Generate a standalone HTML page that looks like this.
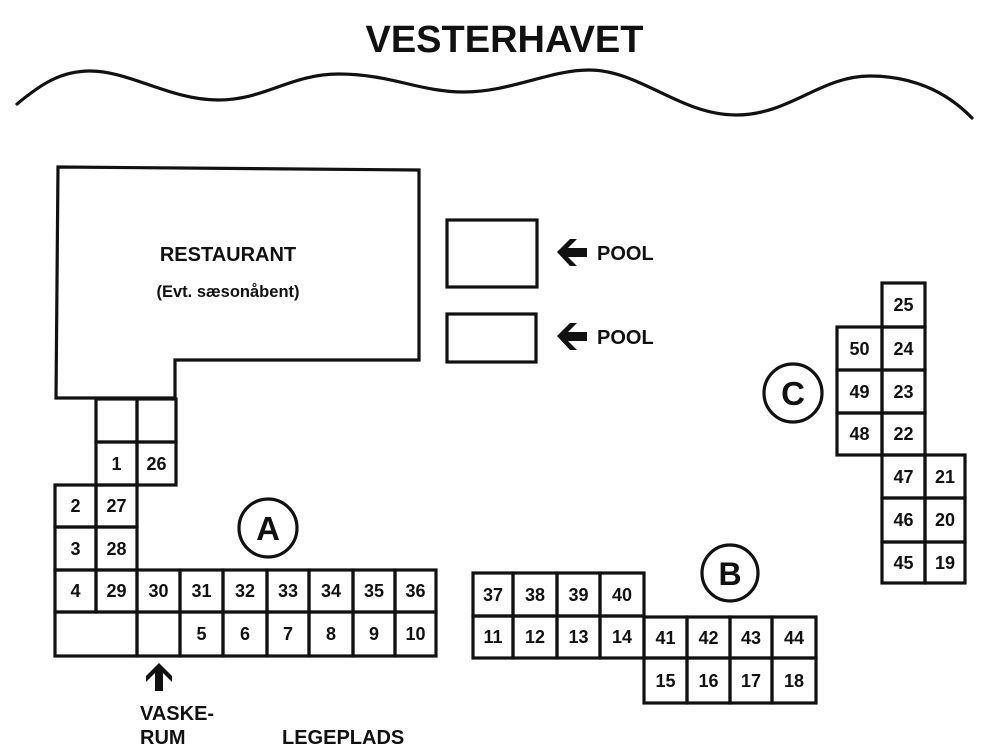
<!DOCTYPE html>
<html>
<head>
<meta charset="utf-8">
<style>
html,body{margin:0;padding:0;background:#fff;}
svg{display:block;}
text{font-family:"Liberation Sans",Arial,sans-serif;font-weight:bold;fill:#111;}
.n{font-size:18px;text-anchor:middle;}
</style>
</head>
<body>
<svg width="1002" height="748" viewBox="0 0 1002 748" xmlns="http://www.w3.org/2000/svg">
<rect width="1002" height="748" fill="#fff"/>

<!-- Title -->
<text x="504.5" y="52" font-size="38" text-anchor="middle">VESTERHAVET</text>

<!-- Wave -->
<path d="M17,104 C40,85 60,71 90,71 C130,71 170,100 218,100 C265,100 290,74 339,74 C390,74 420,92 464,92 C510,92 550,70 589,70 C640,70 680,115 736,115 C790,115 820,76 870,76 C910,76 945,90 972,118" fill="none" stroke="#111" stroke-width="3.2" stroke-linecap="round"/>

<g fill="none" stroke="#111" stroke-width="3.2">
<!-- Restaurant -->
<polygon points="58,167 419,170 419,360 175,360 175,398 56,398"/>

<!-- Pools -->
<rect x="447" y="220" width="90" height="67"/>
<rect x="447" y="314" width="89" height="48"/>

<!-- Block A -->
<rect x="96" y="399" width="41" height="43"/>
<rect x="137" y="399" width="39" height="43"/>
<rect x="96" y="442" width="41" height="43"/>
<rect x="137" y="442" width="39" height="43"/>
<rect x="55" y="485" width="41" height="42"/>
<rect x="96" y="485" width="41" height="42"/>
<rect x="55" y="527" width="41" height="43"/>
<rect x="96" y="527" width="41" height="43"/>
<rect x="55" y="570" width="41" height="42"/>
<rect x="96" y="570" width="41" height="42"/>
<rect x="137" y="570" width="43" height="42"/>
<rect x="180" y="570" width="43" height="42"/>
<rect x="223" y="570" width="44" height="42"/>
<rect x="267" y="570" width="42" height="42"/>
<rect x="309" y="570" width="44" height="42"/>
<rect x="353" y="570" width="42" height="42"/>
<rect x="395" y="570" width="41" height="42"/>
<rect x="55" y="612" width="82" height="44"/>
<rect x="137" y="612" width="43" height="44"/>
<rect x="180" y="612" width="43" height="44"/>
<rect x="223" y="612" width="44" height="44"/>
<rect x="267" y="612" width="42" height="44"/>
<rect x="309" y="612" width="44" height="44"/>
<rect x="353" y="612" width="42" height="44"/>
<rect x="395" y="612" width="41" height="44"/>

<!-- Block B -->
<rect x="473" y="573" width="40" height="43"/>
<rect x="513" y="573" width="44" height="43"/>
<rect x="557" y="573" width="43" height="43"/>
<rect x="600" y="573" width="44" height="43"/>
<rect x="473" y="616" width="40" height="42"/>
<rect x="513" y="616" width="44" height="42"/>
<rect x="557" y="616" width="43" height="42"/>
<rect x="600" y="616" width="44" height="42"/>
<rect x="644" y="617" width="43" height="41"/>
<rect x="687" y="617" width="43" height="41"/>
<rect x="730" y="617" width="42" height="41"/>
<rect x="772" y="617" width="44" height="41"/>
<rect x="644" y="658" width="43" height="45"/>
<rect x="687" y="658" width="43" height="45"/>
<rect x="730" y="658" width="42" height="45"/>
<rect x="772" y="658" width="44" height="45"/>

<!-- Block C -->
<rect x="882" y="283" width="43" height="44"/>
<rect x="837" y="327" width="45" height="43"/>
<rect x="882" y="327" width="43" height="43"/>
<rect x="837" y="370" width="45" height="43"/>
<rect x="882" y="370" width="43" height="43"/>
<rect x="837" y="413" width="45" height="42"/>
<rect x="882" y="413" width="43" height="42"/>
<rect x="882" y="455" width="43" height="43"/>
<rect x="925" y="455" width="40" height="43"/>
<rect x="882" y="498" width="43" height="44"/>
<rect x="925" y="498" width="40" height="44"/>
<rect x="882" y="542" width="43" height="41"/>
<rect x="925" y="542" width="40" height="41"/>

<!-- Circles -->
<circle cx="268" cy="528" r="29"/>
<circle cx="730" cy="573" r="28"/>
<circle cx="793" cy="393" r="29"/>
</g>

<!-- Circle letters -->
<text x="268" y="540" font-size="33" text-anchor="middle">A</text>
<text x="730" y="585" font-size="32" text-anchor="middle">B</text>
<text x="793" y="405" font-size="33" text-anchor="middle">C</text>

<!-- Restaurant labels -->
<text x="228" y="261" font-size="20" text-anchor="middle">RESTAURANT</text>
<text x="228" y="297" font-size="16.5" text-anchor="middle">(Evt. sæsonåbent)</text>

<!-- Pool arrows & labels -->
<polygon points="557,252 570,239 577,239 568,248 587,248 587,257 568,257 577,266 570,266" fill="#111"/>
<text x="597" y="260" font-size="20">POOL</text>
<polygon points="557,336 570,323 577,323 568,332 587,332 587,341 568,341 577,350 570,350" fill="#111"/>
<text x="597" y="344" font-size="20">POOL</text>

<!-- Vaskerum arrow -->
<polygon points="159,663 172,676 172,682 163,673 163,691 155,691 155,673 146,682 146,676" fill="#111"/>
<text x="140" y="720" font-size="20">VASKE-</text>
<text x="140" y="744" font-size="20">RUM</text>
<text x="282" y="744" font-size="20">LEGEPLADS</text>

<!-- Numbers Block A -->
<text class="n" x="116.5" y="470">1</text>
<text class="n" x="156.5" y="470">26</text>
<text class="n" x="75.5" y="512">2</text>
<text class="n" x="116.5" y="512">27</text>
<text class="n" x="75.5" y="555">3</text>
<text class="n" x="116.5" y="555">28</text>
<text class="n" x="75.5" y="597">4</text>
<text class="n" x="116.5" y="597">29</text>
<text class="n" x="158.5" y="597">30</text>
<text class="n" x="201.5" y="597">31</text>
<text class="n" x="245" y="597">32</text>
<text class="n" x="288" y="597">33</text>
<text class="n" x="331" y="597">34</text>
<text class="n" x="374" y="597">35</text>
<text class="n" x="415.5" y="597">36</text>
<text class="n" x="201.5" y="640">5</text>
<text class="n" x="245" y="640">6</text>
<text class="n" x="288" y="640">7</text>
<text class="n" x="331" y="640">8</text>
<text class="n" x="374" y="640">9</text>
<text class="n" x="415.5" y="640">10</text>

<!-- Numbers Block B -->
<text class="n" x="493" y="601">37</text>
<text class="n" x="535" y="601">38</text>
<text class="n" x="578.5" y="601">39</text>
<text class="n" x="622" y="601">40</text>
<text class="n" x="493" y="643">11</text>
<text class="n" x="535" y="643">12</text>
<text class="n" x="578.5" y="643">13</text>
<text class="n" x="622" y="643">14</text>
<text class="n" x="665.5" y="644">41</text>
<text class="n" x="708.5" y="644">42</text>
<text class="n" x="751" y="644">43</text>
<text class="n" x="794" y="644">44</text>
<text class="n" x="665.5" y="687">15</text>
<text class="n" x="708.5" y="687">16</text>
<text class="n" x="751" y="687">17</text>
<text class="n" x="794" y="687">18</text>

<!-- Numbers Block C -->
<text class="n" x="903.5" y="311">25</text>
<text class="n" x="859.5" y="355">50</text>
<text class="n" x="903.5" y="355">24</text>
<text class="n" x="859.5" y="398">49</text>
<text class="n" x="903.5" y="398">23</text>
<text class="n" x="859.5" y="440">48</text>
<text class="n" x="903.5" y="440">22</text>
<text class="n" x="903.5" y="483">47</text>
<text class="n" x="945" y="483">21</text>
<text class="n" x="903.5" y="526">46</text>
<text class="n" x="945" y="526">20</text>
<text class="n" x="903.5" y="569">45</text>
<text class="n" x="945" y="569">19</text>
</svg>
</body>
</html>
